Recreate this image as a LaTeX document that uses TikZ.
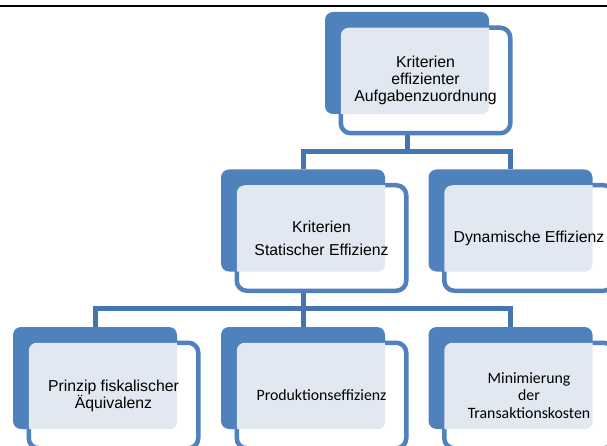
\documentclass[tikz,border=0pt]{standalone}
\usepackage{fontspec}
\setmainfont{Liberation Sans}
\newfontfamily\calib{Carlito}
\usetikzlibrary{calc}
\pgfdeclarelayer{bottom}
\pgfdeclarelayer{background}
\pgfsetlayers{bottom,background,main}
\definecolor{ob}{HTML}{4F81BD}
\definecolor{conc}{HTML}{4676B0}
\definecolor{texc}{HTML}{E2E8F1}
\tikzset{
 backbox/.style={rectangle, rounded corners=8pt, fill=ob, minimum width=164pt, minimum height=102pt, inner sep=0pt},
 frontbox/.style={rectangle, rounded corners=10pt, draw=ob, line width=4.5pt, fill=white, minimum width=169.5pt, minimum height=105.5pt, inner sep=0pt},
 lbl/.style={align=center, font=\fontsize{15.8}{17}\selectfont, inner sep=0pt},
 lblc/.style={align=center, font=\calib\fontsize{15.8}{17.2}\selectfont, inner sep=0pt},
 conn/.style={draw=conc, line width=5pt},
 topline/.style={draw=black, line width=2pt},
}
\newcommand\orgbox[5]{%
 \node[backbox] (#1) at (#2+82,#3+51) {};
 \node[frontbox] (#1-f) at ($(#1)+(18.5,17.5)$) {};
 \begin{scope}
  \clip[rounded corners=8pt] ($(#1-f.north west)+(2.25,2.25)$) rectangle ($(#1-f.south east)+(-2.25,-2.25)$);
  \fill[texc, rounded corners=8pt] (#1.north west) rectangle (#1.south east);
 \end{scope}
 \node[#4] (#1-t) at (#1-f) {#5};
}
\begin{document}
\begin{tikzpicture}[x=1pt,y=-1pt]
\useasboundingbox (0,0) rectangle (607,446);
\begin{pgfonlayer}{bottom}
\fill[white] (0,0) rectangle (607,446);
\end{pgfonlayer}
\draw[topline] (0,5.7) -- (607,5.7);

\orgbox{A}{325}{12}{lbl}{Kriterien\\effizienter\\Aufgabenzuordnung}
\orgbox{B}{221}{169.5}{lbl}{Kriterien\\[6pt]Statischer Effizienz}
\orgbox{C}{428.5}{169.5}{lbl}{Dynamische Effizienz}
\orgbox{D}{13}{327}{lbl}{Prinzip fiskalischer\\Äquivalenz}
\orgbox{E}{221}{327}{lblc}{Produktionseffizienz}
\orgbox{F}{428.5}{327}{lblc}{Minimierung\\der\\Transaktionskosten}

\begin{pgfonlayer}{background}
 \coordinate (j1) at ($(A.south)+(0,37)$);
 \coordinate (j2) at ($(B.south)+(0,36.5)$);
 \draw[conn] (A.south) -- (j1);
 \draw[conn] (B.north) |- (j1) -| (C.north);
 \draw[conn] (B.south) -- (j2);
 \draw[conn] (D.north) |- (j2) -| (F.north);
 \draw[conn] (E.north) -- (j2);
\end{pgfonlayer}
\end{tikzpicture}
\end{document}
